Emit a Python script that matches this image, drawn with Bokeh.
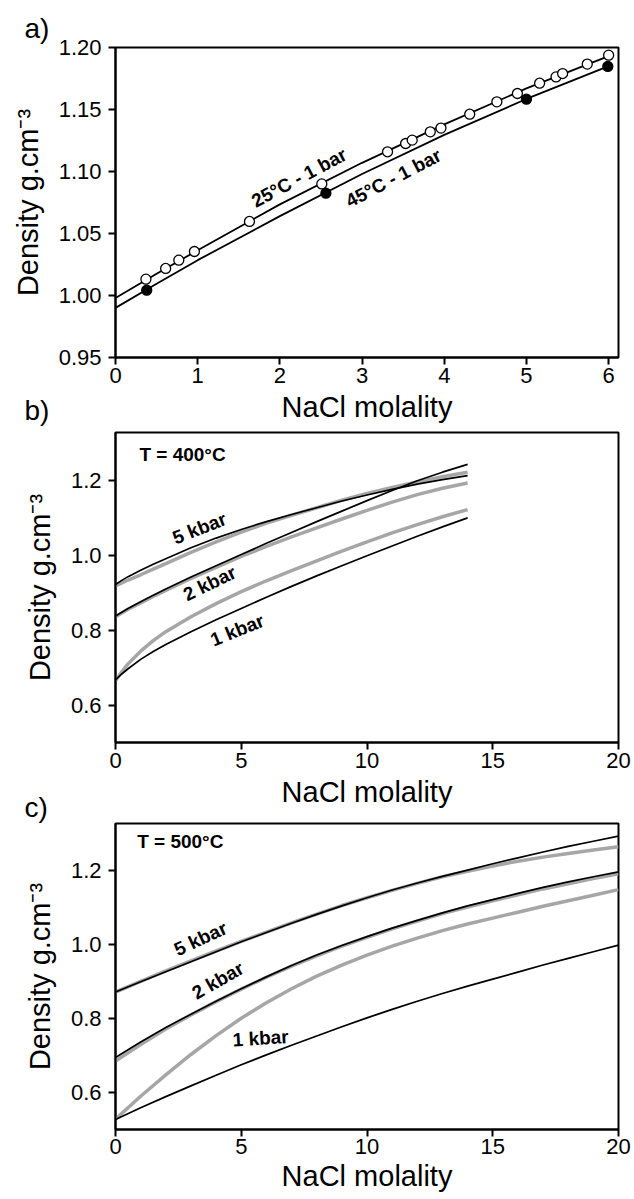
from bokeh.plotting import figure
from bokeh.layouts import column
from bokeh.models import FixedTicker, Range1d
from bokeh.core.properties import value
from bokeh.embed import file_html
from bokeh.resources import INLINE

FONT = "Liberation Sans"
BLACK = "#000000"
GRAY = "#a6a6a6"

# ---------------- panel a data ----------------
a_m25 = [0.37, 0.61, 0.77, 0.96, 1.63, 2.51, 3.31, 3.53, 3.61, 3.83, 3.96,
         4.31, 4.64, 4.89, 5.16, 5.36, 5.44, 5.74, 6.00]
a_d25 = [1.0132, 1.0218, 1.0285, 1.0355, 1.0597, 1.0900, 1.1159, 1.1226, 1.1253,
         1.1320, 1.1350, 1.1462, 1.1562, 1.1629, 1.1712, 1.1763, 1.1790, 1.1866, 1.1938]
a_m45 = [0.38, 2.56, 5.00, 5.99]
a_d45 = [1.0043, 1.0825, 1.1583, 1.1847]
a_fit_m = [0, 0.5, 1, 2, 3, 4, 5, 6]
a_fit25 = [0.998, 1.0175, 1.0365, 1.0735, 1.107, 1.138, 1.167, 1.193]
a_fit45 = [0.990, 1.0095, 1.0285, 1.064, 1.098, 1.1295, 1.1585, 1.185]
a_xticks = [0, 1, 2, 3, 4, 5, 6]
a_xlabels = ["0", "1", "2", "3", "4", "5", "6"]
a_yticks = [0.95, 1.00, 1.05, 1.10, 1.15, 1.20]
a_ylabels = ["0.95", "1.00", "1.05", "1.10", "1.15", "1.20"]

# ---------------- panel b data (T = 400 °C) ----------------
b_m = [0, 0.25, 0.5, 1, 1.5, 2, 3, 4, 5, 6, 7, 8, 9, 10, 11, 12, 13, 14]
b_5k_black = [0.922, 0.933, 0.943, 0.960, 0.976, 0.991, 1.020, 1.046, 1.069, 1.090,
              1.109, 1.127, 1.145, 1.161, 1.176, 1.190, 1.202, 1.213]
b_5k_gray = [0.918, 0.926, 0.934, 0.948, 0.963, 0.978, 1.008, 1.036, 1.062, 1.086,
             1.107, 1.127, 1.147, 1.165, 1.181, 1.196, 1.210, 1.222]
b_2k_black = [0.838, 0.848, 0.858, 0.876, 0.893, 0.910, 0.942, 0.972, 1.002, 1.032,
              1.061, 1.090, 1.118, 1.146, 1.173, 1.199, 1.222, 1.243]
b_2k_gray = [0.836, 0.846, 0.856, 0.873, 0.890, 0.906, 0.938, 0.968, 0.997, 1.024,
             1.049, 1.073, 1.097, 1.120, 1.142, 1.162, 1.179, 1.193]
b_1k_black = [0.667, 0.683, 0.697, 0.722, 0.743, 0.762, 0.796, 0.828, 0.858, 0.888,
              0.917, 0.945, 0.972, 0.999, 1.025, 1.051, 1.076, 1.100]
b_1k_gray = [0.665, 0.689, 0.710, 0.744, 0.772, 0.796, 0.836, 0.871, 0.903, 0.932,
             0.959, 0.985, 1.011, 1.036, 1.060, 1.082, 1.103, 1.122]

# ---------------- panel c data (T = 500 °C) ----------------
c_m = [0, 1, 2, 3, 4, 5, 6, 7, 8, 9, 10, 11, 12, 13, 14, 15, 16, 17, 18, 19, 20]
c_5k_black = [0.872, 0.900, 0.927, 0.954, 0.981, 1.008, 1.033, 1.058, 1.082, 1.105,
              1.127, 1.148, 1.167, 1.185, 1.202, 1.219, 1.235, 1.251, 1.266, 1.280, 1.294]
c_5k_gray = [0.872, 0.901, 0.929, 0.956, 0.983, 1.009, 1.034, 1.059, 1.083, 1.106,
             1.127, 1.147, 1.166, 1.184, 1.199, 1.213, 1.226, 1.237, 1.247, 1.256, 1.265]
c_2k_black = [0.695, 0.737, 0.776, 0.812, 0.847, 0.881, 0.913, 0.944, 0.972, 0.998,
              1.022, 1.045, 1.066, 1.086, 1.105, 1.122, 1.139, 1.155, 1.170, 1.184, 1.197]
c_2k_gray = [0.685, 0.730, 0.772, 0.810, 0.846, 0.880, 0.912, 0.942, 0.970, 0.996,
             1.020, 1.043, 1.064, 1.084, 1.102, 1.119, 1.135, 1.151, 1.165, 1.179, 1.192]
c_1k_black = [0.527, 0.559, 0.589, 0.618, 0.647, 0.675, 0.702, 0.728, 0.753, 0.778,
              0.802, 0.825, 0.847, 0.868, 0.888, 0.907, 0.926, 0.945, 0.963, 0.981, 0.999]
c_1k_gray = [0.528, 0.590, 0.648, 0.703, 0.754, 0.801, 0.843, 0.881, 0.915, 0.945,
             0.972, 0.996, 1.018, 1.038, 1.056, 1.072, 1.088, 1.104, 1.119, 1.134, 1.149]

bc_xticks = [0, 5, 10, 15, 20]
bc_xlabels = ["0", "5", "10", "15", "20"]
bc_yticks = [0.6, 0.8, 1.0, 1.2]
bc_ylabels = ["0.6", "0.8", "1.0", "1.2"]

XLABEL = "NaCl molality"
YLABEL = "Density g.cm\u207b\u00b3"

W = 634
BL, BR = 115, 16


def make_fig(height, top, bottom, xr, yr, xticks, xlabels, yticks, ylabels,
             tag, tag_standoff, tick_stand=3, label_stand=5):
    p = figure(width=W, height=height, x_range=Range1d(*xr), y_range=Range1d(*yr),
               output_backend="svg", toolbar_location=None,
               min_border_left=BL, min_border_right=BR,
               min_border_top=top, min_border_bottom=bottom)
    p.grid.visible = False
    p.outline_line_color = BLACK
    p.outline_line_width = 2
    p.background_fill_color = "white"
    p.border_fill_color = None
    for ax in (p.xaxis[0], p.yaxis[0]):
        ax.axis_line_width = 2
        ax.major_tick_line_width = 2
        ax.major_tick_in = 0
        ax.major_tick_out = 7
        ax.minor_tick_line_color = None
        ax.major_label_text_font = FONT
        ax.major_label_text_font_size = "22px"
        ax.major_label_text_color = BLACK
        ax.axis_label_text_font = FONT
        ax.axis_label_text_font_size = "29px"
        ax.axis_label_text_font_style = "normal"
        ax.axis_label_text_color = BLACK
    p.xaxis.ticker = FixedTicker(ticks=xticks)
    p.yaxis.ticker = FixedTicker(ticks=yticks)
    p.xaxis.major_label_overrides = dict(zip(xticks, xlabels))
    p.yaxis.major_label_overrides = dict(zip(yticks, ylabels))
    p.xaxis.major_label_standoff = tick_stand
    p.yaxis.major_label_standoff = 7
    p.xaxis.axis_label = XLABEL
    p.yaxis.axis_label = YLABEL
    p.xaxis.axis_label_standoff = label_stand
    p.yaxis.axis_label_standoff = 12
    # panel tag "a)", "b)", "c)"
    p.title.text = tag
    p.title.align = "left"
    p.title.offset = -91
    p.title.standoff = tag_standoff
    p.title.text_font = FONT
    p.title.text_font_size = "28px"
    p.title.text_font_style = "normal"
    p.title.text_color = BLACK
    return p


def ann(p, x, y, text, angle, align="center"):
    p.text(x=[x], y=[y], text=[text], angle=angle, text_font=value(FONT),
           text_font_style="bold", text_font_size="19px", text_color=BLACK,
           text_align=align, text_baseline="middle")


# ---------------- figure a ----------------
a_xr = (0, 6.12)
a_yr = (0.95, 1.20)
pa = make_fig(47 + 310 + 78, 47, 78, a_xr, a_yr, a_xticks, a_xlabels,
              a_yticks, a_ylabels, "a)", 7)
pa.line(a_fit_m, a_fit25, line_color=BLACK, line_width=1.8)
pa.line(a_fit_m, a_fit45, line_color=BLACK, line_width=1.8)
pa.scatter(a_m25, a_d25, size=10, marker="circle", fill_color="white",
           line_color=BLACK, line_width=1.3)
pa.scatter(a_m45, a_d45, size=10, marker="circle", fill_color=BLACK,
           line_color=BLACK, line_width=1.3)
ann(pa, 2.233, 1.095, "25°C - 1 bar", 0.49)
ann(pa, 3.382, 1.0947, "45°C - 1 bar", 0.48)

# ---------------- figure b ----------------
bc_xr = (0, 20)
bc_yr = (0.5, 1.328)
pb = make_fig(50 + 310 + 78, 50, 78, bc_xr, bc_yr, bc_xticks, bc_xlabels,
              bc_yticks, bc_ylabels, "b)", 14)
pb.margin = (-53, 0, 0, 0)
for ys in (b_5k_gray, b_2k_gray, b_1k_gray):
    pb.line(b_m, ys, line_color=GRAY, line_width=3.5)
for ys in (b_5k_black, b_2k_black, b_1k_black):
    pb.line(b_m, ys, line_color=BLACK, line_width=1.7)
ann(pb, 0.95, 1.268, "T = 400°C", 0, align="left")
ann(pb, 3.34, 1.072, "5 kbar", 0.375)
ann(pb, 3.74, 0.925, "2 kbar", 0.45)
ann(pb, 4.84, 0.800, "1 kbar", 0.385)

# ---------------- figure c ----------------
pc = make_fig(40 + 306 + 70, 40, 70, bc_xr, bc_yr, bc_xticks, bc_xlabels,
              bc_yticks, bc_ylabels, "c)", 1, tick_stand=2, label_stand=3)
pc.margin = (-37, 0, 0, 0)
for ys in (c_5k_gray, c_2k_gray, c_1k_gray):
    pc.line(c_m, ys, line_color=GRAY, line_width=3.5)
for ys in (c_5k_black, c_2k_black, c_1k_black):
    pc.line(c_m, ys, line_color=BLACK, line_width=1.7)
ann(pc, 0.86, 1.278, "T = 500°C", 0, align="left")
ann(pc, 3.38, 1.016, "5 kbar", 0.44)
ann(pc, 4.07, 0.903, "2 kbar", 0.52)
ann(pc, 5.77, 0.747, "1 kbar", 0.06)

layout = column(pa, pb, pc, spacing=0)
open("out.html", "w").write(file_html(layout, INLINE))
